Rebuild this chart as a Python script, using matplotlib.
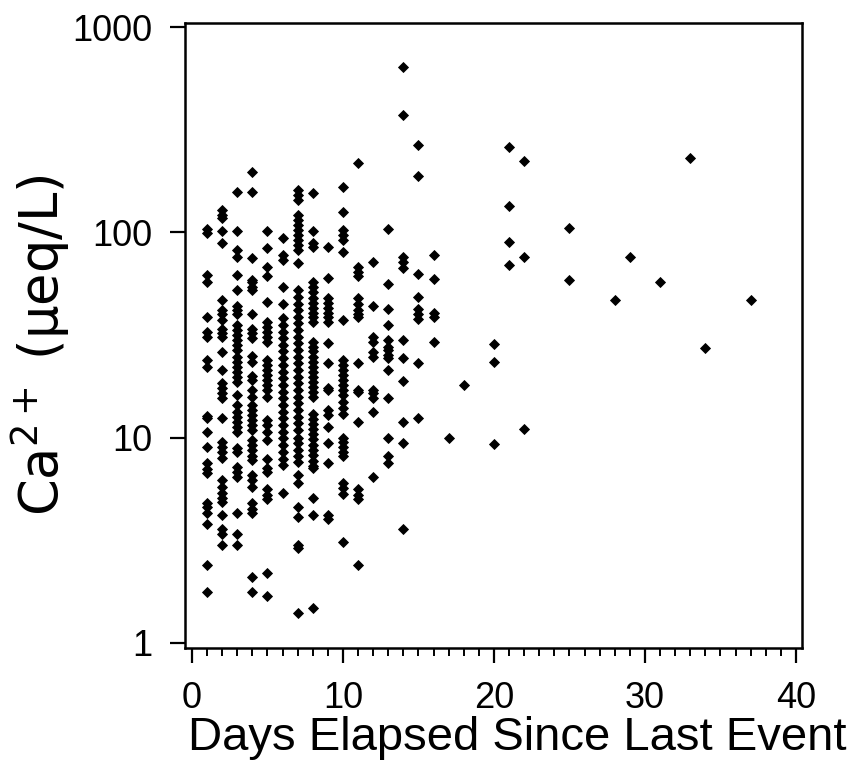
import matplotlib.pyplot as plt
from matplotlib.ticker import FixedLocator, MultipleLocator, NullLocator, FuncFormatter

plt.rcParams['font.family'] = ['Liberation Sans', 'DejaVu Sans']
plt.rcParams['mathtext.default'] = 'regular'

# Ca2+ (ueq/L), one list per day (days 1-16)
ca_d1 = [104, 99, 62, 57, 38.6, 32.6, 31, 24, 22, 12.8, 12.4, 10.6, 9.0, 7.5, 7.0, 6.7,
         4.8, 4.6, 4.3, 3.8, 2.4, 1.77]
ca_d2 = [128, 122, 118, 101, 89, 47, 42, 40, 37.4, 34, 32.5, 31, 26, 21.3, 18.5, 17.5,
         16.5, 15.6, 12.5, 9.5, 9.0, 8.5, 8.0, 6.2, 5.75, 5.4, 5.1, 4.85, 4.2, 3.6, 3.4, 3.0]
ca_d3 = [157, 101, 82, 76, 62, 52.5, 44, 42, 40, 35.4, 33.5, 31.7, 29.9, 28.3, 26.8, 24.7,
         23.4, 22.2, 21.0, 19.8, 18.7, 16.1, 14.4, 13.3, 12.6, 11.9, 11.3, 10.7, 8.9, 8.5,
         7.2, 6.8, 6.4, 4.3, 3.4, 3.0]
ca_d4 = [196, 157, 75, 58.7, 57, 54, 52.5, 40, 34, 32.3, 30.5, 25, 23.4, 20, 19, 17, 15.8,
         14.4, 13.6, 12.9, 12.2, 11.5, 10.9, 9.7, 9.2, 8.7, 8.1, 7.8, 6.6, 6.2, 5.75, 4.8,
         4.5, 4.3, 2.1, 1.77]
ca_d5 = [101, 84, 68, 61, 46, 36.6, 34.7, 32.8, 31, 29.3, 23.9, 22.6, 21.4, 20.2, 19.1, 18.1,
         17.1, 15.8, 12.2, 11.5, 10.6, 9.7, 7.9, 7.1, 6.8, 5.6, 5.25, 5.0, 2.2, 1.69]
ca_d6 = [94, 77.5, 73.5, 54, 45, 38.2, 35.4, 32.8, 30.5, 28.3, 26.3, 24.5, 22.6, 21.0, 19.6,
         18.1, 16.7, 15.6, 14.4, 13.3, 12.5, 11.5, 10.7, 10.0, 9.2, 8.5, 7.9, 7.4, 5.4]
ca_d7 = [161, 152, 144, 122, 115, 109, 103, 97, 91.5, 86.7, 82, 71, 52.5, 48.6, 45, 42, 38.6,
         36, 33.5, 31, 29, 26.8, 24.7, 23.2, 21.4, 19.8, 18.5, 17.1, 15.8, 14.7, 13.6, 12.6,
         11.8, 10.9, 10, 9.4, 8.7, 8.1, 7.6, 6.6, 6.0, 4.6, 4.1, 3.0, 2.9, 1.4]
ca_d8 = [155, 101, 89, 85, 57, 54, 51, 48, 45.5, 43, 40.5, 38.6, 36.6, 29.3, 27.7, 26.3, 24.7,
         23.4, 22.2, 21.0, 19.8, 18.7, 17.7, 16.7, 15.8, 13.0, 12.3, 11.6, 11.0, 10.4, 9.8,
         9.2, 8.7, 8.2, 7.7, 7.3, 7.1, 5.1, 4.2, 1.48]
ca_d9 = [85, 60, 48, 45.5, 43, 40.5, 38.6, 36.6, 29, 23, 17.5, 17, 13.6, 12.9, 11.3, 9.4,
         7.5, 4.2, 4.0]
ca_d10 = [166, 126, 103, 97, 92, 80, 37.4, 24, 22.6, 21.4, 20.2, 19.1, 18.1, 17.1, 16.1,
          15.0, 14.0, 13.0, 10, 9.5, 9.0, 8.5, 8.1, 6.0, 5.7, 5.3, 3.1]
ca_d11 = [218, 68, 64, 61, 48, 45, 42, 40, 38.6, 23, 17, 16.7, 11.9, 5.6, 5.25, 5.0, 2.4]
ca_d12 = [72, 44, 31, 29.3, 26, 24.7, 17, 16.5, 15.6, 13.3, 6.4]
ca_d13 = [104, 56, 42.4, 35.4, 30, 27.7, 26.8, 25.3, 24.5, 21.3, 15.6, 10, 8.1, 7.5]
ca_d14 = [641, 373, 76, 72, 67, 30, 24.5, 18.9, 11.9, 9.4, 3.6]
ca_d15 = [267, 188, 63, 48.6, 42.4, 40, 37.9, 23.2, 12.5]
ca_d16 = [77.5, 59, 40.5, 38.6, 29.3]

# scattered points after day 16
late_days = [17, 18, 20, 20, 20, 21, 21, 21, 21, 22, 22, 22, 25, 25, 28, 29, 31, 33, 34, 37]
late_ca = [10, 18, 28.5, 23.4, 9.3, 261, 134, 90, 69, 222, 76, 11, 105, 58.7, 47, 76, 57,
           230, 27.3, 47]

columns = [ca_d1, ca_d2, ca_d3, ca_d4, ca_d5, ca_d6, ca_d7, ca_d8, ca_d9, ca_d10,
           ca_d11, ca_d12, ca_d13, ca_d14, ca_d15, ca_d16]

days, ca = [], []
for d, vals in enumerate(columns, start=1):
    days += [d] * len(vals)
    ca += vals
days += late_days
ca += late_ca

fig = plt.figure(figsize=(8.53, 7.68), dpi=100)
ax = fig.add_axes([185 / 853, 120 / 768, 617 / 853, 625 / 768])

ax.plot(days, ca, ls='none', marker='D', ms=5.0, mfc='black', mec='black', mew=0.6)

ax.set_yscale('log')
ax.set_xlim(-0.46, 40.4)
ax.set_ylim(0.945, 1047)

ax.xaxis.set_major_locator(MultipleLocator(10))
ax.xaxis.set_minor_locator(MultipleLocator(1))
ax.yaxis.set_major_locator(FixedLocator([1, 10, 100, 1000]))
ax.yaxis.set_minor_locator(NullLocator())
ax.yaxis.set_major_formatter(FuncFormatter(lambda v, p: '%d' % round(v)))

for s in ax.spines.values():
    s.set_linewidth(1.8)

ax.tick_params(axis='both', which='major', direction='out', length=10.5, width=1.6,
               labelsize=26, pad=13)
ax.tick_params(axis='x', which='minor', direction='out', length=6, width=1.4)
ax.tick_params(top=False, right=False)

ax.set_xlabel('Days Elapsed Since Last Event', fontsize=34)
ax.xaxis.set_label_coords(0.538, -0.108)
ax.set_ylabel('Ca$^{2+}$ (μeq/L)', fontsize=38, family=['DejaVu Sans'])
ax.yaxis.set_label_coords(-0.183, 0.485)

fig.savefig('out.png', dpi=100)
